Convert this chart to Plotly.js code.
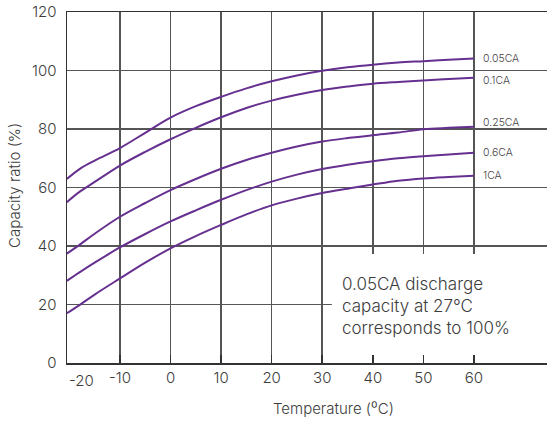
<!DOCTYPE html>
<html>
<head>
<meta charset="utf-8">
<script src="https://cdn.plot.ly/plotly-3.0.1.min.js"></script>
<style>html,body{margin:0;padding:0;background:#fff;}#chart{width:547px;height:422px;}</style>
</head>
<body>
<div id="chart"></div>
<script>
// Temperatures (°C) at which the curves were read
const temps = [-20.5, -18, -15, -10, -5, 0, 5, 10, 15, 20, 25, 30, 35, 40, 45, 50, 55, 60];
// Capacity ratio (%) per discharge rate
const ca005 = [62.9, 66.3, 69.2, 73.5, 78.7, 83.9, 87.8, 91.0, 93.9, 96.3, 98.3, 99.9, 101.1, 102.0, 102.7, 103.2, 103.7, 104.1];
const ca01  = [55.0, 58.5, 61.9, 67.5, 72.2, 76.5, 80.4, 84.0, 87.2, 89.7, 91.7, 93.3, 94.5, 95.5, 96.1, 96.6, 97.1, 97.5];
const ca025 = [37.4, 40.4, 44.2, 50.0, 54.7, 59.1, 62.9, 66.4, 69.4, 71.9, 74.0, 75.7, 76.9, 77.9, 78.8, 79.9, 80.4, 80.8];
const ca06  = [28.1, 31.0, 34.3, 39.5, 44.1, 48.4, 52.2, 55.8, 59.1, 62.0, 64.4, 66.3, 67.8, 69.0, 70.0, 70.7, 71.3, 71.9];
const ca1   = [17.0, 19.8, 23.4, 28.9, 34.3, 39.2, 43.4, 47.2, 50.8, 53.9, 56.2, 58.1, 59.6, 61.0, 62.3, 63.1, 63.6, 64.0];
const seriesNames = ['0.05CA', '0.1CA', '0.25CA', '0.6CA', '1CA'];
const seriesVals = [ca005, ca01, ca025, ca06, ca1];
const labelShift = [0, -3, 4, 0, 0];

const xTicks = [-10, 0, 10, 20, 30, 40, 50, 60];
const xTickText = ['-10', '0', '10', '20', '30', '40', '50', '60'];
const firstXLabel = '-20';
const yTicks = [0, 20, 40, 60, 80, 100, 120];

const FONT = 'Inter, "Noto Sans", sans-serif';
const PURPLE = '#65308f';
const TXT = '#3c3c3c';
const W = 300;

const traces = seriesVals.map((v, i) => ({
  x: temps, y: v, type: 'scatter', mode: 'lines', name: seriesNames[i],
  line: {color: PURPLE, width: 2, shape: 'spline', smoothing: 1},
  hoverinfo: 'skip', showlegend: false
}));

const annotations = seriesVals.map((v, i) => ({
  x: temps[temps.length - 1], y: v[v.length - 1], xref: 'x', yref: 'y',
  text: seriesNames[i], showarrow: false, xanchor: 'left', yanchor: 'middle',
  xshift: 7, yshift: labelShift[i], font: {family: FONT, size: 10.5, color: '#444', weight: W}
}));
annotations.push({
  x: -17.7, y: 0, xref: 'x', yref: 'y', text: firstXLabel, showarrow: false,
  xanchor: 'center', yanchor: 'middle', yshift: -17, font: {family: FONT, size: 15, color: TXT, weight: W}
});
annotations.push({
  x: 33.5, y: 19.5, xref: 'x', yref: 'y', align: 'left',
  text: '0.05CA discharge<br>capacity at 27°C<br>corresponds to 100%', showarrow: false,
  xanchor: 'left', yanchor: 'middle', font: {family: FONT, size: 17, color: TXT, weight: W}
});
annotations.push({
  x: 0.556, y: -0.131, xref: 'paper', yref: 'paper', text: 'Temperature (\u2070C)',
  showarrow: false, xanchor: 'center', yanchor: 'middle', font: {family: FONT, size: 15, color: TXT, weight: W}
});
annotations.push({
  x: -0.108, y: 0.505, xref: 'paper', yref: 'paper', text: 'Capacity ratio (%)', textangle: -90,
  showarrow: false, xanchor: 'center', yanchor: 'middle', font: {family: FONT, size: 15, color: TXT, weight: W}
});

const layout = {
  width: 547, height: 422,
  margin: {l: 67, r: 0, t: 12, b: 59},
  paper_bgcolor: '#fff', plot_bgcolor: '#fff',
  xaxis: {
    range: [-20.47, 74.45], tickvals: xTicks, ticktext: xTickText,
    showgrid: true, gridcolor: '#555', gridwidth: 1.5,
    showline: true, linecolor: '#333', linewidth: 1.5, mirror: true,
    ticks: 'inside', ticklen: 8, tickwidth: 1.5, tickcolor: '#333',
    zeroline: false, fixedrange: true,
    tickfont: {family: FONT, size: 15, color: TXT, weight: W}
  },
  yaxis: {
    range: [0, 120], tickvals: yTicks,
    showgrid: true, gridcolor: '#555', gridwidth: 1.5,
    showline: true, linecolor: '#333', linewidth: 1.5,
    ticks: '', zeroline: false, fixedrange: true, ticklabelstandoff: 6,
    tickfont: {family: FONT, size: 15, color: TXT, weight: W}
  },
  shapes: [{
    type: 'rect', xref: 'x', yref: 'y', x0: 31.9, x1: 80, y0: 0, y1: 37.3,
    fillcolor: '#fff', line: {width: 0}, layer: 'between'
  }],
  annotations: annotations,
  showlegend: false
};

Plotly.newPlot('chart', traces, layout, {displayModeBar: false, staticPlot: true});
</script>
</body>
</html>
